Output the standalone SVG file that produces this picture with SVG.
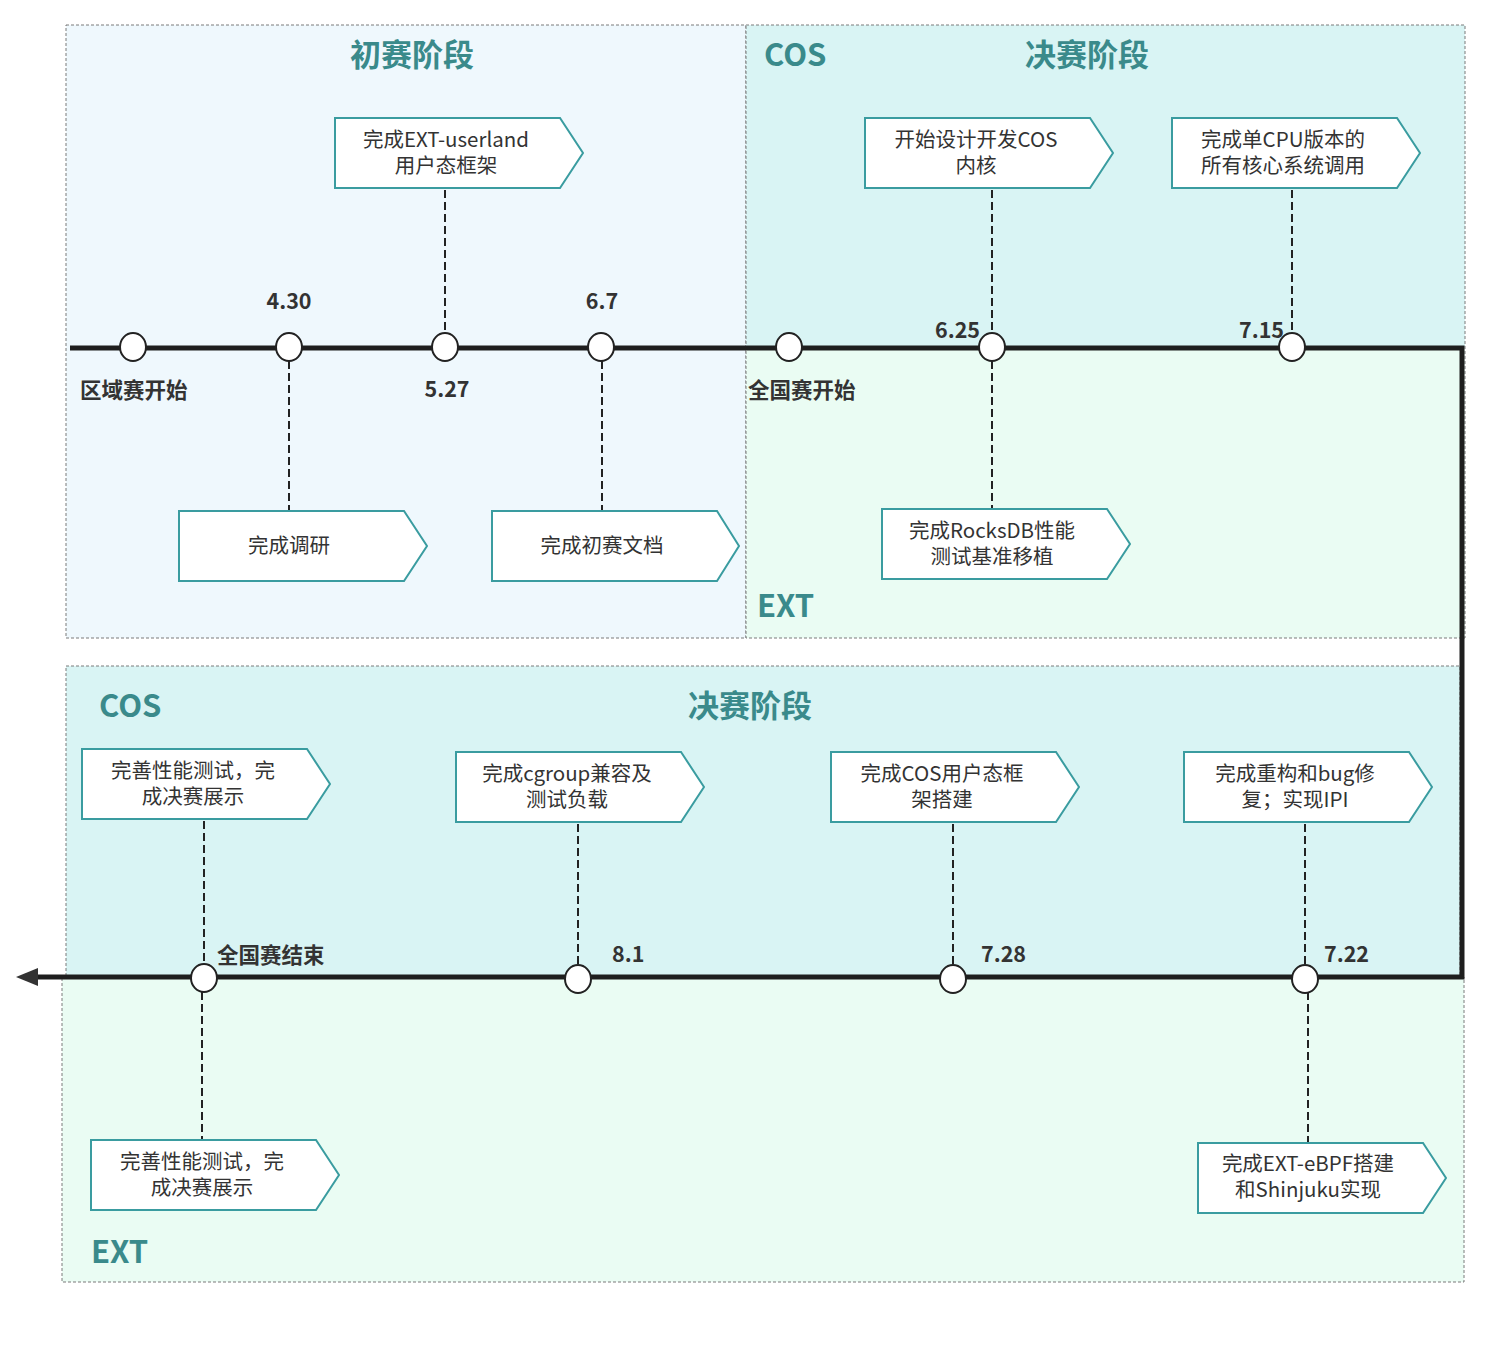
<svg xmlns="http://www.w3.org/2000/svg" width="1489" height="1345" viewBox="0 0 1489 1345">
<style>
.bd{stroke:#7a7a7a;stroke-width:1;stroke-dasharray:3 2;fill:none}
.box{fill:#ffffff;stroke:#3a9ca0;stroke-width:2}
.bt{font-family:"Noto Sans CJK SC","Liberation Sans",sans-serif;font-size:20.5px;fill:#333333;text-anchor:middle}
.ttl{font-family:"Noto Sans CJK SC","Liberation Sans",sans-serif;font-size:31px;font-weight:bold;fill:#3a8a8b}
.lb{font-family:"Noto Sans CJK SC","Liberation Sans",sans-serif;font-size:21.5px;font-weight:bold;fill:#333333}
.dash{stroke:#222222;stroke-width:2;stroke-dasharray:8 4;fill:none}
.tl{stroke:#1e1e1e;stroke-width:5;fill:none}
.ms{fill:#ffffff;stroke:#222222;stroke-width:2}
</style>
<rect width="1489" height="1345" fill="#ffffff"/>
<g id="regions">
<rect x="66" y="25" width="680" height="613" fill="#eff8fd"/>
<rect x="66" y="25" width="680" height="613" class="bd"/>
<rect x="746" y="25" width="719" height="323" fill="#d9f4f4"/>
<rect x="746" y="348" width="719" height="290" fill="#eafcf3"/>
<rect x="746" y="25" width="719" height="613" class="bd"/>
<rect x="66" y="666" width="1394" height="311" fill="#d9f4f4"/>
<rect x="66" y="666" width="1394" height="311" class="bd"/>
<rect x="62" y="977" width="1402" height="305" fill="#eafcf3"/>
<rect x="62" y="977" width="1402" height="305" class="bd"/>
</g>
<g id="titles">
<text x="412" y="66" class="ttl" text-anchor="middle">初赛阶段</text>
<text x="764" y="66" class="ttl">COS</text>
<text x="1087" y="66" class="ttl" text-anchor="middle">决赛阶段</text>
<text x="757" y="617" class="ttl">EXT</text>
<text x="99" y="717" class="ttl">COS</text>
<text x="750" y="717" class="ttl" text-anchor="middle">决赛阶段</text>
<text x="91" y="1263" class="ttl">EXT</text>
</g>
<g id="connectors">
<path d="M70,348 L1462,348 L1462,977 L36,977" class="tl" stroke-linejoin="miter"/>
<path d="M16,977 L38,968 L38,986 z" fill="#333333"/>
<path d="M445,190 L445,333" class="dash"/>
<path d="M289,361 L289,511" class="dash"/>
<path d="M602,361 L602,511" class="dash"/>
<path d="M992,190 L992,333" class="dash"/>
<path d="M992,361 L992,509" class="dash"/>
<path d="M1292,190 L1292,333" class="dash"/>
<path d="M204,821 L204,964" class="dash"/>
<path d="M202,992 L202,1140" class="dash"/>
<path d="M578,824 L578,965" class="dash"/>
<path d="M953,824 L953,965" class="dash"/>
<path d="M1305,824 L1305,965" class="dash"/>
<path d="M1308,992 L1308,1143" class="dash"/>
</g>
<g id="milestones">
<ellipse cx="133" cy="347" rx="13" ry="14" class="ms"/>
<ellipse cx="289" cy="347" rx="13" ry="14" class="ms"/>
<ellipse cx="445" cy="347" rx="13" ry="14" class="ms"/>
<ellipse cx="601" cy="347" rx="13" ry="14" class="ms"/>
<ellipse cx="789" cy="347" rx="13" ry="14" class="ms"/>
<ellipse cx="992" cy="347" rx="13" ry="14" class="ms"/>
<ellipse cx="1292" cy="347" rx="13" ry="14" class="ms"/>
<ellipse cx="204" cy="978" rx="13" ry="14" class="ms"/>
<ellipse cx="578" cy="979" rx="13" ry="14" class="ms"/>
<ellipse cx="953" cy="979" rx="13" ry="14" class="ms"/>
<ellipse cx="1305" cy="979" rx="13" ry="14" class="ms"/>
</g>
<g id="labels">
<text x="289" y="309" class="lb" text-anchor="middle">4.30</text>
<text x="602" y="309" class="lb" text-anchor="middle">6.7</text>
<text x="447" y="397" class="lb" text-anchor="middle">5.27</text>
<text x="80" y="398" class="lb">区域赛开始</text>
<text x="748" y="398" class="lb">全国赛开始</text>
<text x="980" y="338" class="lb" text-anchor="end">6.25</text>
<text x="1284" y="338" class="lb" text-anchor="end">7.15</text>
<text x="217" y="963" class="lb">全国赛结束</text>
<text x="612" y="962" class="lb">8.1</text>
<text x="981" y="962" class="lb">7.28</text>
<text x="1324" y="962" class="lb">7.22</text>
</g>
<g id="n-userland">
<path d="M335,118 L560,118 L583,153 L560,188 L335,188 z" class="box"/>
<text x="446" y="147" class="bt">完成EXT-userland</text>
<text x="446" y="173" class="bt">用户态框架</text>
</g>
<g id="n-research">
<path d="M179,511 L404,511 L427,546 L404,581 L179,581 z" class="box"/>
<text x="289" y="553" class="bt">完成调研</text>
</g>
<g id="n-doc">
<path d="M492,511 L717,511 L739,546 L717,581 L492,581 z" class="box"/>
<text x="602" y="553" class="bt">完成初赛文档</text>
</g>
<g id="n-cos-kernel">
<path d="M865,118 L1090,118 L1113,153 L1090,188 L865,188 z" class="box"/>
<text x="976" y="147" class="bt">开始设计开发COS</text>
<text x="976" y="173" class="bt">内核</text>
</g>
<g id="n-single-cpu">
<path d="M1172,118 L1397,118 L1420,153 L1397,188 L1172,188 z" class="box"/>
<text x="1283" y="147" class="bt">完成单CPU版本的</text>
<text x="1283" y="173" class="bt">所有核心系统调用</text>
</g>
<g id="n-rocksdb">
<path d="M882,509 L1107,509 L1130,544 L1107,579 L882,579 z" class="box"/>
<text x="992" y="538" class="bt">完成RocksDB性能</text>
<text x="992" y="564" class="bt">测试基准移植</text>
</g>
<g id="n-cos-final">
<path d="M82,749 L307,749 L330,784 L307,819 L82,819 z" class="box"/>
<text x="193" y="778" class="bt">完善性能测试，完</text>
<text x="193" y="804" class="bt">成决赛展示</text>
</g>
<g id="n-cgroup">
<path d="M456,752 L681,752 L704,787 L681,822 L456,822 z" class="box"/>
<text x="567" y="781" class="bt">完成cgroup兼容及</text>
<text x="567" y="807" class="bt">测试负载</text>
</g>
<g id="n-cos-user">
<path d="M831,752 L1056,752 L1079,787 L1056,822 L831,822 z" class="box"/>
<text x="942" y="781" class="bt">完成COS用户态框</text>
<text x="942" y="807" class="bt">架搭建</text>
</g>
<g id="n-refactor">
<path d="M1184,752 L1409,752 L1432,787 L1409,822 L1184,822 z" class="box"/>
<text x="1295" y="781" class="bt">完成重构和bug修</text>
<text x="1295" y="807" class="bt">复；实现IPI</text>
</g>
<g id="n-ext-final">
<path d="M91,1140 L316,1140 L339,1175 L316,1210 L91,1210 z" class="box"/>
<text x="202" y="1169" class="bt">完善性能测试，完</text>
<text x="202" y="1195" class="bt">成决赛展示</text>
</g>
<g id="n-ebpf">
<path d="M1198,1143 L1423,1143 L1446,1178 L1423,1213 L1198,1213 z" class="box"/>
<text x="1308" y="1171" class="bt">完成EXT-eBPF搭建</text>
<text x="1308" y="1197" class="bt">和Shinjuku实现</text>
</g>
</svg>
